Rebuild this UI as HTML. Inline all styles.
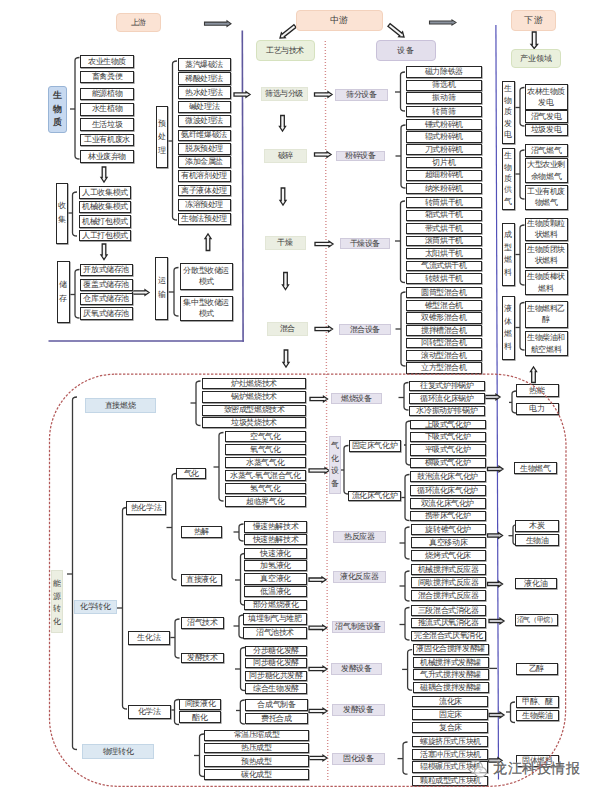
<!DOCTYPE html><html><head><meta charset="utf-8"><style>

*{margin:0;padding:0;box-sizing:border-box}
html,body{width:600px;height:795px;background:#ffffff;overflow:hidden}
body{position:relative;font-family:"Liberation Sans",sans-serif;color:#1a1a1a}
.b,.s{position:absolute;display:flex;align-items:center;justify-content:center;text-align:center;line-height:1.4;white-space:nowrap;overflow:visible}
.b{background:#fff;border:1.4px solid #262626;box-shadow:0.6px 0.8px 0 #8a8a8a}
.b,.s{color:#3a3a3a;letter-spacing:-0.4px}
.bold span{font-weight:700}
.s{border:1px solid transparent}
.peach{background:#fbe3d4;border-color:#f3d2bd;border-radius:4px}
.purp{background:#e3dfec;border-color:#c9c1d9;border-radius:4px}
.green{background:#eaf0dd;border-color:#d6e2bf;border-radius:4px}
.blue{background:#c7d9f0;border:1.5px solid #98b4d6}
.proc{background:#ebeee2;border-color:#e2e6d6}
.equip{background:#e6e3ee;border-color:#cfcadb}
.lblue{background:#dce8f2;border-color:#c3d6e6}
.green2{background:#ecefe2;border-color:#dfe3d2}
svg.ov{position:absolute;left:0;top:0}
.ln{fill:none;stroke:#3a3a3a;stroke-width:1.3}
.pl{fill:none;stroke:#5f589e;stroke-width:1.6}
.pl2{fill:none;stroke:#5250b8;stroke-width:1.2}
.dot{fill:none;stroke:#d48a8a;stroke-width:1.4;stroke-dasharray:1.1 1.9}
.rd{fill:none;stroke:#b45a5a;stroke-width:1.25;stroke-dasharray:2.4 1.6}
.arh{fill:#f4f4f4;stroke:#262626;stroke-width:1.3}
.arg{fill:#8a929e;stroke:#3a3a3a;stroke-width:1.1}
.arf{fill:#c8c8cc;stroke:#262626;stroke-width:1.3}
.wm{position:absolute;font-size:14px;line-height:18px;color:rgba(85,85,85,0.9);white-space:nowrap;letter-spacing:0.45px;-webkit-text-stroke:0.3px rgba(85,85,85,0.9);text-shadow:0 0 1.5px #fff,0 0 1px #fff}

</style></head><body>
<svg class="ov" width="600" height="795" viewBox="0 0 600 795">
<polygon points="204.5,22.1 227.0,22.1 227.0,20.9 231.0,23.7 227.0,26.5 227.0,25.3 204.5,25.3" class="arg"/>
<polygon points="387.9,26.3 399.7,35.7 398.8,36.7 404.0,37.0 402.6,32.0 401.8,33.0 390.1,23.7" class="arh"/>
<polygon points="293.9,24.7 282.2,34.0 281.4,33.0 280.0,38.0 285.2,37.7 284.3,36.7 296.1,27.3" class="arh"/>
<polygon points="429.5,21.0 452.0,21.0 452.0,19.9 456.0,22.5 452.0,25.1 452.0,24.0 429.5,24.0" class="arg"/>
<polygon points="532.3,32.0 532.3,44.5 531.0,44.5 534.2,48.5 537.5,44.5 536.1,44.5 536.1,32.0" class="arh"/>
<path d="M242.3,30.5 L243.1,341.8" class="pl"/>
<path d="M48.5,341.0 L244.0,341.0" class="pl"/>
<path d="M495.9,25 L498.5,779.5" class="pl2"/>
<path d="M325.3,41 L327.8,782" class="dot"/>
<path d="M79.5,57.5 Q75.0,57.5 75.0,60.5 L75.0,156.0 Q75.0,159.0 79.5,159.0" class="ln"/>
<path d="M70.0,109.0 L75.0,109.0" class="ln"/>
<polygon points="102.2,167.0 102.2,177.5 101.0,177.5 104.0,182.0 107.0,177.5 105.8,177.5 105.8,167.0" class="arh"/>
<path d="M77.0,192.0 Q72.5,192.0 72.5,195.0 L72.5,233.0 Q72.5,236.0 77.0,236.0" class="ln"/>
<path d="M67.5,213.0 L72.5,213.0" class="ln"/>
<polygon points="102.2,244.0 102.2,255.0 101.0,255.0 104.0,259.5 107.0,255.0 105.8,255.0 105.8,244.0" class="arh"/>
<path d="M79.5,269.5 Q75.0,269.5 75.0,272.5 L75.0,315.0 Q75.0,318.0 79.5,318.0" class="ln"/>
<path d="M69.5,294.5 L75.0,294.5" class="ln"/>
<polygon points="132.5,290.8 145.0,290.8 145.0,289.8 149.0,292.5 145.0,295.2 145.0,294.2 132.5,294.2" class="arh"/>
<path d="M178.5,267.5 Q174.0,267.5 174.0,270.5 L174.0,313.0 Q174.0,316.0 178.5,316.0" class="ln"/>
<path d="M168.5,292.0 L174.0,292.0" class="ln"/>
<polygon points="206.2,250.5 206.2,238.5 205.0,238.5 208.0,234.0 211.0,238.5 209.8,238.5 209.8,250.5" class="arh"/>
<path d="M177.0,61.0 Q172.5,61.0 172.5,64.0 L172.5,217.0 Q172.5,220.0 177.0,220.0" class="ln"/>
<path d="M167.5,141.0 L172.5,141.0" class="ln"/>
<polygon points="234.0,92.8 246.0,92.8 246.0,91.8 250.0,94.5 246.0,97.2 246.0,96.2 234.0,96.2" class="arh"/>
<polygon points="314.5,92.8 328.0,92.8 328.0,91.8 332.0,94.5 328.0,97.2 328.0,96.2 314.5,96.2" class="arh"/>
<polygon points="280.7,115.5 280.7,126.5 279.5,126.5 282.5,131.0 285.5,126.5 284.3,126.5 284.3,115.5" class="arh"/>
<polygon points="314.5,152.8 327.0,152.8 327.0,151.8 331.0,154.5 327.0,157.2 327.0,156.2 314.5,156.2" class="arh"/>
<polygon points="281.2,188.0 281.2,200.5 280.0,200.5 283.0,205.0 286.0,200.5 284.8,200.5 284.8,188.0" class="arh"/>
<polygon points="315.0,242.3 329.0,242.3 329.0,241.3 333.0,244.0 329.0,246.7 329.0,245.7 315.0,245.7" class="arh"/>
<polygon points="283.7,272.5 283.7,285.0 282.5,285.0 285.5,289.5 288.5,285.0 287.3,285.0 287.3,272.5" class="arh"/>
<polygon points="315.0,327.3 328.5,327.3 328.5,326.3 332.5,329.0 328.5,331.7 328.5,330.7 315.0,330.7" class="arh"/>
<polygon points="284.2,350.0 284.2,362.5 283.0,362.5 286.0,367.0 289.0,362.5 287.8,362.5 287.8,350.0" class="arh"/>
<path d="M405.0,72.0 Q400.5,72.0 400.5,75.0 L400.5,108.0 Q400.5,111.0 405.0,111.0" class="ln"/>
<path d="M395.0,92.0 L400.5,92.0" class="ln"/>
<path d="M405.5,125.0 Q401.0,125.0 401.0,128.0 L401.0,185.0 Q401.0,188.0 405.5,188.0" class="ln"/>
<path d="M395.5,156.0 L401.0,156.0" class="ln"/>
<path d="M405.0,201.0 Q400.5,201.0 400.5,204.0 L400.5,279.5 Q400.5,282.5 405.0,282.5" class="ln"/>
<path d="M395.0,241.0 L400.5,241.0" class="ln"/>
<path d="M405.5,292.0 Q401.0,292.0 401.0,295.0 L401.0,363.0 Q401.0,366.0 405.5,366.0" class="ln"/>
<path d="M395.5,329.0 L401.0,329.0" class="ln"/>
<path d="M524.5,87.5 Q520.0,87.5 520.0,90.5 L520.0,123.0 Q520.0,126.0 524.5,126.0" class="ln"/>
<path d="M514.5,107.5 L520.0,107.5" class="ln"/>
<path d="M524.5,150.0 Q520.0,150.0 520.0,153.0 L520.0,196.0 Q520.0,199.0 524.5,199.0" class="ln"/>
<path d="M514.5,174.0 L520.0,174.0" class="ln"/>
<path d="M524.5,225.0 Q520.0,225.0 520.0,228.0 L520.0,282.0 Q520.0,285.0 524.5,285.0" class="ln"/>
<path d="M514.5,254.5 L520.0,254.5" class="ln"/>
<path d="M524.5,302.5 Q520.0,302.5 520.0,305.5 L520.0,347.0 Q520.0,350.0 524.5,350.0" class="ln"/>
<path d="M514.5,327.5 L520.0,327.5" class="ln"/>
<polygon points="531.7,382.5 531.7,371.5 530.5,371.5 533.5,367.0 536.5,371.5 535.3,371.5 535.3,382.5" class="arh"/>
<path d="M77.0,397.0 Q72.5,397.0 72.5,400.0 L72.5,746.5 Q72.5,749.5 77.0,749.5" class="ln"/>
<path d="M67.0,574.0 L72.5,574.0" class="ln"/>
<path d="M117.0,608.0 L122.5,608.0" class="ln"/>
<path d="M127.0,507.5 Q122.5,507.5 122.5,510.5 L122.5,706.0 Q122.5,709.0 127.0,709.0" class="ln"/>
<path d="M176.5,473.5 Q172.0,473.5 172.0,476.5 L172.0,577.0 Q172.0,580.0 176.5,580.0" class="ln"/>
<path d="M166.5,527.5 L172.0,527.5" class="ln"/>
<path d="M223.5,432.5 Q219.0,432.5 219.0,435.5 L219.0,498.0 Q219.0,501.0 223.5,501.0" class="ln"/>
<path d="M213.5,467.0 L219.0,467.0" class="ln"/>
<path d="M200.5,381.0 Q196.0,381.0 196.0,384.0 L196.0,422.5 Q196.0,425.5 200.5,425.5" class="ln"/>
<path d="M190.5,403.0 L196.0,403.0" class="ln"/>
<polygon points="310.0,397.3 323.5,397.3 323.5,396.3 327.5,399.0 323.5,401.7 323.5,400.7 310.0,400.7" class="arh"/>
<path d="M243.5,524.0 Q239.0,524.0 239.0,527.0 L239.0,538.0 Q239.0,541.0 243.5,541.0" class="ln"/>
<path d="M233.5,532.0 L239.0,532.0" class="ln"/>
<path d="M245.0,553.5 Q240.5,553.5 240.5,556.5 L240.5,602.0 Q240.5,605.0 245.0,605.0" class="ln"/>
<path d="M235.0,580.0 L240.5,580.0" class="ln"/>
<polygon points="309.0,578.0 322.0,578.0 322.0,577.0 326.0,579.7 322.0,582.4 322.0,581.4 309.0,581.4" class="arh"/>
<path d="M179.5,619.0 Q175.0,619.0 175.0,622.0 L175.0,655.0 Q175.0,658.0 179.5,658.0" class="ln"/>
<path d="M170.0,637.5 L175.0,637.5" class="ln"/>
<path d="M243.5,615.0 Q239.0,615.0 239.0,618.0 L239.0,635.0 Q239.0,638.0 243.5,638.0" class="ln"/>
<path d="M233.5,626.0 L239.0,626.0" class="ln"/>
<polygon points="309.0,626.1 322.7,626.1 322.7,625.1 326.7,627.8 322.7,630.5 322.7,629.5 309.0,629.5" class="arh"/>
<path d="M245.0,647.5 Q240.5,647.5 240.5,650.5 L240.5,687.5 Q240.5,690.5 245.0,690.5" class="ln"/>
<path d="M235.0,669.0 L240.5,669.0" class="ln"/>
<polygon points="309.0,667.3 323.0,667.3 323.0,666.3 327.0,669.0 323.0,671.7 323.0,670.7 309.0,670.7" class="arh"/>
<path d="M179.0,699.5 Q174.5,699.5 174.5,702.5 L174.5,721.5 Q174.5,724.5 179.0,724.5" class="ln"/>
<path d="M170.5,710.0 L174.5,710.0" class="ln"/>
<path d="M244.8,700.0 Q240.3,700.0 240.3,703.0 L240.3,721.0 Q240.3,724.0 244.8,724.0" class="ln"/>
<path d="M236.0,710.5 L240.3,710.5" class="ln"/>
<polygon points="309.0,709.3 323.0,709.3 323.0,708.3 327.0,711.0 323.0,713.7 323.0,712.7 309.0,712.7" class="arh"/>
<path d="M204.0,734.0 Q199.5,734.0 199.5,737.0 L199.5,773.5 Q199.5,776.5 204.0,776.5" class="ln"/>
<path d="M194.0,755.5 L199.5,755.5" class="ln"/>
<polygon points="309.0,756.3 323.0,756.3 323.0,755.3 327.0,758.0 323.0,760.7 323.0,759.7 309.0,759.7" class="arh"/>
<path d="M408.5,382.5 Q404.0,382.5 404.0,385.5 L404.0,407.0 Q404.0,410.0 408.5,410.0" class="ln"/>
<path d="M398.5,397.5 L404.0,397.5" class="ln"/>
<polygon points="485.0,395.3 496.0,395.3 496.0,394.3 500.0,397.0 496.0,399.7 496.0,398.7 485.0,398.7" class="arf"/>
<polygon points="309.0,468.8 325.0,468.8 325.0,467.8 329.0,470.5 325.0,473.2 325.0,472.2 309.0,472.2" class="arh"/>
<path d="M348.5,445.5 Q344.0,445.5 344.0,448.5 L344.0,491.0 Q344.0,494.0 348.5,494.0" class="ln"/>
<path d="M340.5,470.0 L344.0,470.0" class="ln"/>
<path d="M410.5,421.0 Q406.0,421.0 406.0,424.0 L406.0,462.0 Q406.0,465.0 410.5,465.0" class="ln"/>
<path d="M404.0,445.0 L406.0,445.0" class="ln"/>
<path d="M409.5,474.5 Q405.0,474.5 405.0,477.5 L405.0,517.5 Q405.0,520.5 409.5,520.5" class="ln"/>
<path d="M401.0,497.5 L405.0,497.5" class="ln"/>
<polygon points="487.5,467.3 499.0,467.3 499.0,466.3 503.0,469.0 499.0,471.7 499.0,470.7 487.5,470.7" class="arf"/>
<path d="M409.5,527.0 Q405.0,527.0 405.0,530.0 L405.0,556.0 Q405.0,559.0 409.5,559.0" class="ln"/>
<path d="M399.5,543.0 L405.0,543.0" class="ln"/>
<polygon points="487.5,533.8 498.5,533.8 498.5,532.8 502.5,535.5 498.5,538.2 498.5,537.2 487.5,537.2" class="arf"/>
<path d="M409.5,571.0 Q405.0,571.0 405.0,574.0 L405.0,598.0 Q405.0,601.0 409.5,601.0" class="ln"/>
<path d="M399.5,586.0 L405.0,586.0" class="ln"/>
<polygon points="487.5,582.3 498.5,582.3 498.5,581.3 502.5,584.0 498.5,586.7 498.5,585.7 487.5,585.7" class="arf"/>
<path d="M409.5,607.5 Q405.0,607.5 405.0,610.5 L405.0,637.0 Q405.0,640.0 409.5,640.0" class="ln"/>
<path d="M399.5,624.5 L405.0,624.5" class="ln"/>
<polygon points="489.0,619.3 500.0,619.3 500.0,618.3 504.0,621.0 500.0,623.7 500.0,622.7 489.0,622.7" class="arf"/>
<path d="M412.1,649.7 Q407.6,649.7 407.6,652.7 L407.6,687.2 Q407.6,690.2 412.1,690.2" class="ln"/>
<path d="M402.1,669.4 L407.6,669.4" class="ln"/>
<path d="M488.6,668.4 L497.0,668.4" class="ln"/>
<polygon points="489.0,713.3 500.0,713.3 500.0,712.3 504.0,715.0 500.0,717.7 500.0,716.7 489.0,716.7" class="arf"/>
<path d="M407.5,742.0 Q403.0,742.0 403.0,745.0 L403.0,771.2 Q403.0,774.2 407.5,774.2" class="ln"/>
<path d="M397.5,758.6 L403.0,758.6" class="ln"/>
<polygon points="488.5,758.8 498.0,758.8 498.0,757.8 502.0,760.5 498.0,763.2 498.0,762.2 488.5,762.2" class="arf"/>
<path d="M516.5,391.0 Q512.0,391.0 512.0,394.0 L512.0,410.0 Q512.0,413.0 516.5,413.0" class="ln"/>
<path d="M509.0,402.4 L512.0,402.4" class="ln"/>
<path d="M517.5,524.7 Q513.0,524.7 513.0,527.7 L513.0,542.0 Q513.0,545.0 517.5,545.0" class="ln"/>
<path d="M508.5,535.7 L513.0,535.7" class="ln"/>
<path d="M515.0,702.0 Q510.5,702.0 510.5,705.0 L510.5,719.5 Q510.5,722.5 515.0,722.5" class="ln"/>
<path d="M506.0,712.0 L510.5,712.0" class="ln"/>
</svg>
<div class="s peach" style="left:115.5px;top:13.0px;width:45.5px;height:19.0px;font-size:8px;"><span>上游</span></div>
<div class="s peach" style="left:296.0px;top:10.0px;width:86.5px;height:20.5px;font-size:9px;letter-spacing:0.5px;"><span>中游</span></div>
<div class="s purp" style="left:376.0px;top:40.0px;width:59.5px;height:21.0px;font-size:8px;letter-spacing:0.3px;"><span>设备</span></div>
<div class="s green" style="left:255.5px;top:40.0px;width:59.0px;height:21.0px;font-size:8px;"><span>工艺与技术</span></div>
<div class="s peach" style="left:511.0px;top:10.0px;width:45.0px;height:20.5px;font-size:9px;letter-spacing:0.5px;"><span>下游</span></div>
<div class="s green" style="left:511.0px;top:49.0px;width:50.0px;height:18.5px;font-size:8px;letter-spacing:0px;"><span>产业领域</span></div>
<div class="s blue bold v" style="left:48.0px;top:86.0px;width:19.0px;height:46.5px;font-size:9px;border-radius:3px;"><span style="line-height:13.50px">生<br>物<br>质</span></div>
<div class="b" style="left:80.0px;top:54.5px;width:54.0px;height:13.5px;font-size:8px;"><span>农业生物质</span></div>
<div class="b" style="left:80.0px;top:70.5px;width:54.0px;height:12.5px;font-size:8px;"><span>畜禽粪便</span></div>
<div class="b" style="left:80.0px;top:87.5px;width:54.0px;height:12.5px;font-size:8px;"><span>能源植物</span></div>
<div class="b" style="left:80.0px;top:102.5px;width:54.0px;height:13.0px;font-size:8px;"><span>水生植物</span></div>
<div class="b" style="left:80.0px;top:118.0px;width:54.0px;height:13.0px;font-size:8px;"><span>生活垃圾</span></div>
<div class="b" style="left:80.0px;top:134.0px;width:54.0px;height:12.0px;font-size:8px;"><span>工业有机废水</span></div>
<div class="b" style="left:80.0px;top:150.0px;width:54.0px;height:13.0px;font-size:8px;"><span>林业废弃物</span></div>
<div class="b v" style="left:56.0px;top:182.5px;width:11.5px;height:61.5px;font-size:8px;"><span style="line-height:14.00px">收<br>集</span></div>
<div class="b" style="left:79.0px;top:186.0px;width:52.0px;height:13.0px;font-size:8px;"><span>人工收集模式</span></div>
<div class="b" style="left:79.0px;top:201.0px;width:52.0px;height:11.5px;font-size:8px;"><span>机械收集模式</span></div>
<div class="b" style="left:79.0px;top:215.0px;width:52.0px;height:12.5px;font-size:8px;"><span>机械打包模式</span></div>
<div class="b" style="left:79.0px;top:229.5px;width:52.0px;height:11.5px;font-size:8px;"><span>人工打包模式</span></div>
<div class="b v" style="left:57.0px;top:260.5px;width:12.5px;height:62.0px;font-size:8px;"><span style="line-height:14.00px">储<br>存</span></div>
<div class="b" style="left:80.0px;top:264.0px;width:52.5px;height:12.0px;font-size:8px;"><span>开放式储存池</span></div>
<div class="b" style="left:80.0px;top:279.0px;width:52.5px;height:12.0px;font-size:8px;"><span>覆盖式储存池</span></div>
<div class="b" style="left:80.0px;top:293.0px;width:52.5px;height:12.0px;font-size:8px;"><span>仓库式储存池</span></div>
<div class="b" style="left:80.0px;top:307.0px;width:52.5px;height:12.5px;font-size:8px;"><span>厌氧式储存池</span></div>
<div class="b v" style="left:155.0px;top:257.0px;width:13.0px;height:62.5px;font-size:8px;"><span style="line-height:14.00px">运<br>输</span></div>
<div class="b" style="left:180.0px;top:262.5px;width:52.5px;height:27.0px;font-size:8px;"><span>分散型收储运<br>模式</span></div>
<div class="b" style="left:180.0px;top:295.5px;width:52.5px;height:25.5px;font-size:8px;"><span>集中型收储运<br>模式</span></div>
<div class="b v" style="left:155.5px;top:106.0px;width:12.0px;height:62.0px;font-size:8px;"><span style="line-height:13.50px">预<br>处<br>理</span></div>
<div class="b" style="left:177.5px;top:58.0px;width:53.0px;height:12.5px;font-size:8px;"><span>蒸汽爆破法</span></div>
<div class="b" style="left:177.5px;top:72.0px;width:53.0px;height:12.5px;font-size:8px;"><span>稀酸处理法</span></div>
<div class="b" style="left:177.5px;top:86.0px;width:53.0px;height:13.0px;font-size:8px;"><span>热水处理法</span></div>
<div class="b" style="left:177.5px;top:100.5px;width:53.0px;height:12.5px;font-size:8px;"><span>碱处理法</span></div>
<div class="b" style="left:177.5px;top:114.5px;width:53.0px;height:12.5px;font-size:8px;"><span>微波处理法</span></div>
<div class="b" style="left:177.5px;top:129.5px;width:53.0px;height:11.0px;font-size:8px;"><span>氨纤维爆破法</span></div>
<div class="b" style="left:177.5px;top:143.0px;width:53.0px;height:11.5px;font-size:8px;"><span>脱灰预处理</span></div>
<div class="b" style="left:177.5px;top:156.0px;width:53.0px;height:12.0px;font-size:8px;"><span>添加金属盐</span></div>
<div class="b" style="left:177.5px;top:170.0px;width:53.0px;height:12.0px;font-size:8px;"><span>有机溶剂处理</span></div>
<div class="b" style="left:177.5px;top:184.5px;width:53.0px;height:11.5px;font-size:8px;"><span>离子液体处理</span></div>
<div class="b" style="left:177.5px;top:199.0px;width:53.0px;height:11.5px;font-size:8px;"><span>冻溶预处理</span></div>
<div class="b" style="left:177.5px;top:212.5px;width:53.0px;height:12.5px;font-size:8px;"><span>生物法预处理</span></div>
<div class="s proc" style="left:260.5px;top:87.0px;width:47.0px;height:14.0px;font-size:8px;"><span>筛选与分级</span></div>
<div class="s equip" style="left:335.0px;top:89.0px;width:52.5px;height:12.0px;font-size:8px;"><span>筛分设备</span></div>
<div class="s proc" style="left:264.0px;top:149.0px;width:43.0px;height:13.5px;font-size:8px;"><span>破碎</span></div>
<div class="s equip" style="left:336.0px;top:150.5px;width:49.0px;height:10.0px;font-size:8px;"><span>粉碎设备</span></div>
<div class="s proc" style="left:264.5px;top:236.0px;width:41.0px;height:14.0px;font-size:8px;"><span>干燥</span></div>
<div class="s equip" style="left:339.5px;top:238.0px;width:50.5px;height:11.0px;font-size:8px;"><span>干燥设备</span></div>
<div class="s proc" style="left:267.0px;top:322.0px;width:41.0px;height:14.0px;font-size:8px;"><span>混合</span></div>
<div class="s equip" style="left:338.5px;top:323.5px;width:52.5px;height:11.5px;font-size:8px;"><span>混合设备</span></div>
<div class="b" style="left:405.5px;top:66.0px;width:76.5px;height:11.5px;font-size:8px;"><span>磁力除铁器</span></div>
<div class="b" style="left:405.5px;top:79.5px;width:76.5px;height:11.0px;font-size:8px;"><span>筛选机</span></div>
<div class="b" style="left:405.5px;top:92.0px;width:76.5px;height:12.0px;font-size:8px;"><span>振动筛</span></div>
<div class="b" style="left:405.5px;top:105.5px;width:76.5px;height:11.5px;font-size:8px;"><span>转筒筛</span></div>
<div class="b" style="left:405.5px;top:119.0px;width:76.5px;height:11.0px;font-size:8px;"><span>锤式粉碎机</span></div>
<div class="b" style="left:405.5px;top:131.0px;width:76.5px;height:11.5px;font-size:8px;"><span>辊式粉碎机</span></div>
<div class="b" style="left:405.5px;top:144.0px;width:76.5px;height:11.0px;font-size:8px;"><span>刀式粉碎机</span></div>
<div class="b" style="left:405.5px;top:157.0px;width:76.5px;height:10.5px;font-size:8px;"><span>切片机</span></div>
<div class="b" style="left:405.5px;top:169.5px;width:76.5px;height:11.0px;font-size:8px;"><span>超细粉碎机</span></div>
<div class="b" style="left:405.5px;top:182.5px;width:76.5px;height:11.5px;font-size:8px;"><span>纳米粉碎机</span></div>
<div class="b" style="left:405.5px;top:197.0px;width:76.5px;height:10.5px;font-size:8px;"><span>转筒烘干机</span></div>
<div class="b" style="left:405.5px;top:209.5px;width:76.5px;height:11.0px;font-size:8px;"><span>箱式烘干机</span></div>
<div class="b" style="left:405.5px;top:222.5px;width:76.5px;height:11.5px;font-size:8px;"><span>带式烘干机</span></div>
<div class="b" style="left:405.5px;top:235.5px;width:76.5px;height:10.5px;font-size:8px;"><span>滚筒烘干机</span></div>
<div class="b" style="left:405.5px;top:248.0px;width:76.5px;height:11.0px;font-size:8px;"><span>太阳烘干机</span></div>
<div class="b" style="left:405.5px;top:260.5px;width:76.5px;height:10.5px;font-size:8px;"><span>气流式烘干机</span></div>
<div class="b" style="left:405.5px;top:273.0px;width:76.5px;height:11.0px;font-size:8px;"><span>转鼓烘干机</span></div>
<div class="b" style="left:405.5px;top:287.0px;width:76.5px;height:11.0px;font-size:8px;"><span>圆筒型混合机</span></div>
<div class="b" style="left:405.5px;top:299.6px;width:76.5px;height:11.4px;font-size:8px;"><span>锥型混合机</span></div>
<div class="b" style="left:405.5px;top:312.4px;width:76.5px;height:11.2px;font-size:8px;"><span>双锥形混合机</span></div>
<div class="b" style="left:405.5px;top:325.0px;width:76.5px;height:11.0px;font-size:8px;"><span>搅拌槽混合机</span></div>
<div class="b" style="left:405.5px;top:337.6px;width:76.5px;height:10.4px;font-size:8px;"><span>回转型混合机</span></div>
<div class="b" style="left:405.5px;top:350.0px;width:76.5px;height:11.0px;font-size:8px;"><span>滚动型混合机</span></div>
<div class="b" style="left:405.5px;top:362.4px;width:76.5px;height:11.2px;font-size:8px;"><span>立方型混合机</span></div>
<div class="b v" style="left:502.0px;top:80.5px;width:12.5px;height:63.0px;font-size:8px;"><span style="line-height:11.40px">生<br>物<br>质<br>发<br>电</span></div>
<div class="b" style="left:524.5px;top:84.0px;width:43.0px;height:25.5px;font-size:8px;"><span>农林生物质<br>发电</span></div>
<div class="b" style="left:524.5px;top:110.0px;width:43.0px;height:12.5px;font-size:8px;"><span>沼气发电</span></div>
<div class="b" style="left:524.5px;top:124.0px;width:43.0px;height:11.5px;font-size:8px;"><span>垃圾发电</span></div>
<div class="b v" style="left:502.0px;top:148.0px;width:12.5px;height:61.5px;font-size:8px;"><span style="line-height:11.40px">生<br>物<br>质<br>供<br>气</span></div>
<div class="b" style="left:524.5px;top:144.0px;width:43.0px;height:13.0px;font-size:8px;"><span>沼气燃气</span></div>
<div class="b" style="left:524.5px;top:158.0px;width:43.0px;height:25.0px;font-size:8px;"><span>大型农业剩<br>余物燃气</span></div>
<div class="b" style="left:524.5px;top:184.5px;width:43.0px;height:25.0px;font-size:8px;"><span>工业有机废<br>物燃气</span></div>
<div class="b v" style="left:502.0px;top:222.5px;width:12.5px;height:63.5px;font-size:8px;"><span style="line-height:12.50px">成<br>型<br>燃<br>料</span></div>
<div class="b" style="left:524.5px;top:217.5px;width:43.0px;height:23.5px;font-size:8px;"><span>生物质颗粒<br>状燃料</span></div>
<div class="b" style="left:524.5px;top:242.5px;width:43.0px;height:25.5px;font-size:8px;"><span>生物质团块<br>状燃料</span></div>
<div class="b" style="left:524.5px;top:270.0px;width:43.0px;height:25.0px;font-size:8px;"><span>生物质棒状<br>燃料</span></div>
<div class="b v" style="left:502.0px;top:296.0px;width:12.5px;height:64.0px;font-size:8px;"><span style="line-height:12.50px">液<br>体<br>燃<br>料</span></div>
<div class="b" style="left:524.5px;top:301.0px;width:43.0px;height:26.5px;font-size:8px;"><span>生物燃料乙<br>醇</span></div>
<div class="b" style="left:524.5px;top:331.0px;width:43.0px;height:25.0px;font-size:8px;"><span>生物柴油和<br>航空燃料</span></div>
<div class="s green2 v" style="left:50.5px;top:570.0px;width:12.1px;height:62.7px;font-size:8px;padding-top:4px;"><span style="line-height:12.50px">能<br>源<br>转<br>化</span></div>
<div class="s lblue" style="left:84.5px;top:398.0px;width:71.0px;height:14.5px;font-size:8px;"><span>直接燃烧</span></div>
<div class="s lblue" style="left:74.0px;top:599.5px;width:43.0px;height:14.5px;font-size:8px;"><span>化学转化</span></div>
<div class="s lblue" style="left:82.0px;top:744.0px;width:72.0px;height:15.0px;font-size:8px;"><span>物理转化</span></div>
<div class="b" style="left:126.0px;top:500.5px;width:40.0px;height:14.5px;font-size:8px;"><span>热化学法</span></div>
<div class="b" style="left:127.5px;top:630.5px;width:42.5px;height:14.0px;font-size:8px;"><span>生化法</span></div>
<div class="b" style="left:127.5px;top:704.5px;width:43.0px;height:14.5px;font-size:8px;"><span>化学法</span></div>
<div class="b" style="left:176.4px;top:467.5px;width:30.1px;height:11.5px;font-size:8px;"><span>气化</span></div>
<div class="b" style="left:180.5px;top:526.0px;width:41.5px;height:11.5px;font-size:8px;"><span>热解</span></div>
<div class="b" style="left:180.5px;top:574.0px;width:41.5px;height:11.5px;font-size:8px;"><span>直接液化</span></div>
<div class="b" style="left:224.5px;top:431.0px;width:81.5px;height:11.0px;font-size:8px;"><span>空气气化</span></div>
<div class="b" style="left:224.5px;top:444.0px;width:81.5px;height:10.5px;font-size:8px;"><span>氧气气化</span></div>
<div class="b" style="left:224.5px;top:457.0px;width:81.5px;height:11.0px;font-size:8px;"><span>水蒸气气化</span></div>
<div class="b" style="left:224.5px;top:470.0px;width:81.5px;height:11.0px;font-size:8px;"><span>水蒸气-氧气混合气化</span></div>
<div class="b" style="left:224.5px;top:483.0px;width:81.5px;height:11.0px;font-size:8px;"><span>氢气气化</span></div>
<div class="b" style="left:224.5px;top:496.0px;width:81.5px;height:11.0px;font-size:8px;"><span>超临界气化</span></div>
<div class="b" style="left:202.0px;top:378.0px;width:104.0px;height:11.0px;font-size:8px;"><span>炉灶燃烧技术</span></div>
<div class="b" style="left:202.0px;top:390.5px;width:104.0px;height:12.0px;font-size:8px;"><span>锅炉燃烧技术</span></div>
<div class="b" style="left:202.0px;top:404.5px;width:104.0px;height:11.0px;font-size:8px;"><span>致密成型燃烧技术</span></div>
<div class="b" style="left:202.0px;top:417.0px;width:104.0px;height:11.0px;font-size:8px;"><span>垃圾焚烧技术</span></div>
<div class="b" style="left:244.0px;top:521.0px;width:62.7px;height:11.5px;font-size:8px;"><span>慢速热解技术</span></div>
<div class="b" style="left:244.0px;top:534.0px;width:62.7px;height:11.0px;font-size:8px;"><span>快速热解技术</span></div>
<div class="b" style="left:244.2px;top:547.5px;width:62.8px;height:11.2px;font-size:8px;"><span>快速液化</span></div>
<div class="b" style="left:244.2px;top:560.0px;width:62.8px;height:11.3px;font-size:8px;"><span>加氢液化</span></div>
<div class="b" style="left:244.2px;top:573.3px;width:62.8px;height:11.4px;font-size:8px;"><span>真空液化</span></div>
<div class="b" style="left:244.2px;top:586.3px;width:62.8px;height:11.2px;font-size:8px;"><span>低温液化</span></div>
<div class="b" style="left:244.2px;top:599.5px;width:62.8px;height:10.5px;font-size:8px;"><span>部分燃烧液化</span></div>
<div class="b" style="left:181.0px;top:617.0px;width:43.0px;height:11.8px;font-size:8px;"><span>沼气技术</span></div>
<div class="b" style="left:181.0px;top:652.5px;width:43.0px;height:10.5px;font-size:8px;"><span>发酵技术</span></div>
<div class="b" style="left:243.3px;top:613.3px;width:63.4px;height:11.4px;font-size:8px;"><span>填埋制气与堆肥</span></div>
<div class="b" style="left:243.3px;top:627.0px;width:63.4px;height:11.5px;font-size:8px;"><span>沼气池技术</span></div>
<div class="b" style="left:244.7px;top:645.5px;width:62.6px;height:10.0px;font-size:8px;"><span>分步糖化发酵</span></div>
<div class="b" style="left:244.7px;top:658.0px;width:62.6px;height:10.0px;font-size:8px;"><span>同步糖化发酵</span></div>
<div class="b" style="left:244.7px;top:670.5px;width:62.6px;height:10.0px;font-size:8px;"><span>同步糖化共发酵</span></div>
<div class="b" style="left:244.7px;top:683.0px;width:62.6px;height:11.0px;font-size:8px;"><span>综合生物发酵</span></div>
<div class="b" style="left:179.2px;top:698.5px;width:41.6px;height:11.0px;font-size:8px;"><span>间接液化</span></div>
<div class="b" style="left:179.2px;top:711.3px;width:41.6px;height:12.0px;font-size:8px;"><span>酯化</span></div>
<div class="b" style="left:244.8px;top:699.3px;width:63.2px;height:11.5px;font-size:8px;"><span>合成气制备</span></div>
<div class="b" style="left:244.8px;top:712.7px;width:63.2px;height:11.4px;font-size:8px;"><span>费托合成</span></div>
<div class="b" style="left:204.0px;top:729.5px;width:105.0px;height:11.0px;font-size:8px;"><span>常温压缩成型</span></div>
<div class="b" style="left:204.0px;top:742.5px;width:105.0px;height:10.5px;font-size:8px;"><span>热压成型</span></div>
<div class="b" style="left:204.0px;top:755.3px;width:105.0px;height:11.7px;font-size:8px;"><span>预热成型</span></div>
<div class="b" style="left:204.0px;top:769.2px;width:105.0px;height:11.3px;font-size:8px;"><span>碳化成型</span></div>
<div class="s equip" style="left:331.0px;top:392.5px;width:51.0px;height:11.5px;font-size:8px;"><span>燃烧设备</span></div>
<div class="b" style="left:409.0px;top:381.0px;width:75.5px;height:10.0px;font-size:8px;"><span>往复式炉排锅炉</span></div>
<div class="b" style="left:409.0px;top:393.0px;width:75.5px;height:11.0px;font-size:8px;"><span>循环流化床锅炉</span></div>
<div class="b" style="left:409.0px;top:405.5px;width:75.5px;height:10.0px;font-size:8px;"><span>水冷振动炉排锅炉</span></div>
<div class="s equip v" style="left:328.5px;top:436.0px;width:12.0px;height:58.0px;font-size:8px;"><span style="line-height:12.50px">气<br>化<br>设<br>备</span></div>
<div class="b" style="left:348.5px;top:439.6px;width:52.0px;height:12.0px;font-size:8px;"><span>固定床气化炉</span></div>
<div class="b" style="left:348.0px;top:491.0px;width:53.0px;height:10.0px;font-size:8px;"><span>流化床气化炉</span></div>
<div class="b" style="left:409.5px;top:419.5px;width:76.0px;height:9.5px;font-size:8px;"><span>上吸式气化炉</span></div>
<div class="b" style="left:409.5px;top:432.0px;width:76.0px;height:10.0px;font-size:8px;"><span>下吸式气化炉</span></div>
<div class="b" style="left:409.5px;top:444.0px;width:76.0px;height:11.5px;font-size:8px;"><span>平吸式气化炉</span></div>
<div class="b" style="left:409.5px;top:457.5px;width:76.0px;height:10.5px;font-size:8px;"><span>横吸式气化炉</span></div>
<div class="b" style="left:409.5px;top:471.0px;width:76.0px;height:11.0px;font-size:8px;"><span>鼓泡流化床气化炉</span></div>
<div class="b" style="left:409.5px;top:485.0px;width:76.0px;height:10.5px;font-size:8px;"><span>循环流化床气化炉</span></div>
<div class="b" style="left:409.5px;top:498.0px;width:76.0px;height:11.0px;font-size:8px;"><span>双流化床气化炉</span></div>
<div class="b" style="left:409.5px;top:510.5px;width:76.0px;height:10.0px;font-size:8px;"><span>携带床气化炉</span></div>
<div class="s equip" style="left:333.0px;top:530.5px;width:52.5px;height:12.0px;font-size:8px;"><span>热反应器</span></div>
<div class="b" style="left:410.5px;top:524.0px;width:75.5px;height:10.5px;font-size:8px;"><span>旋转锥气化炉</span></div>
<div class="b" style="left:410.5px;top:537.0px;width:75.5px;height:10.5px;font-size:8px;"><span>真空移动床</span></div>
<div class="b" style="left:410.5px;top:550.0px;width:75.5px;height:10.5px;font-size:8px;"><span>烧烤式气化床</span></div>
<div class="s equip" style="left:333.0px;top:570.5px;width:52.5px;height:12.0px;font-size:8px;"><span>液化反应器</span></div>
<div class="b" style="left:410.5px;top:564.0px;width:75.5px;height:11.0px;font-size:8px;"><span>机械搅拌式反应器</span></div>
<div class="b" style="left:410.5px;top:577.0px;width:75.5px;height:11.0px;font-size:8px;"><span>间歇搅拌式反应器</span></div>
<div class="b" style="left:410.5px;top:590.0px;width:75.5px;height:11.0px;font-size:8px;"><span>混合搅拌式反应器</span></div>
<div class="s equip" style="left:332.0px;top:621.0px;width:52.5px;height:11.5px;font-size:8px;"><span>沼气制造设备</span></div>
<div class="b" style="left:410.5px;top:605.0px;width:75.5px;height:10.5px;font-size:8px;"><span>三段混合式消化器</span></div>
<div class="b" style="left:410.5px;top:618.0px;width:75.5px;height:10.0px;font-size:8px;"><span>推流式厌氧消化器</span></div>
<div class="b" style="left:410.5px;top:630.5px;width:75.5px;height:10.0px;font-size:8px;"><span>完全混合式厌氧消化</span></div>
<div class="s equip" style="left:331.0px;top:663.0px;width:51.0px;height:11.5px;font-size:8px;"><span>发酵设备</span></div>
<div class="b" style="left:412.6px;top:643.5px;width:76.0px;height:11.0px;font-size:8px;"><span>液固化合搅拌发酵罐</span></div>
<div class="b" style="left:412.6px;top:656.5px;width:76.0px;height:11.3px;font-size:8px;"><span>机械搅拌式发酵罐</span></div>
<div class="b" style="left:412.6px;top:669.4px;width:76.0px;height:11.0px;font-size:8px;"><span>气升式搅拌发酵罐</span></div>
<div class="b" style="left:412.6px;top:682.3px;width:76.0px;height:11.0px;font-size:8px;"><span>磁耦合搅拌发酵罐</span></div>
<div class="s equip" style="left:332.0px;top:704.0px;width:52.5px;height:11.5px;font-size:8px;"><span>发酵设备</span></div>
<div class="b" style="left:412.4px;top:696.0px;width:76.1px;height:10.8px;font-size:8px;"><span>流化床</span></div>
<div class="b" style="left:412.4px;top:709.3px;width:76.1px;height:10.9px;font-size:8px;"><span>固定床</span></div>
<div class="b" style="left:412.4px;top:721.7px;width:76.1px;height:11.6px;font-size:8px;"><span>复合床</span></div>
<div class="s equip" style="left:332.0px;top:753.0px;width:52.5px;height:12.0px;font-size:8px;"><span>固化设备</span></div>
<div class="b" style="left:412.4px;top:735.8px;width:76.1px;height:11.4px;font-size:8px;"><span>螺旋挤压式压块机</span></div>
<div class="b" style="left:412.4px;top:748.7px;width:76.1px;height:11.0px;font-size:8px;"><span>活塞冲压式压块机</span></div>
<div class="b" style="left:412.4px;top:761.0px;width:76.1px;height:11.7px;font-size:8px;"><span>辊模碾压式压块机</span></div>
<div class="b" style="left:412.4px;top:775.6px;width:76.1px;height:10.4px;font-size:8px;"><span>颗粒成型式压块机</span></div>
<div class="b" style="left:515.5px;top:384.2px;width:43.2px;height:12.5px;font-size:8px;"><span>热能</span></div>
<div class="b" style="left:515.5px;top:403.0px;width:43.2px;height:12.0px;font-size:8px;"><span>电力</span></div>
<div class="b" style="left:514.3px;top:462.2px;width:42.4px;height:12.1px;font-size:8px;"><span>生物燃气</span></div>
<div class="b" style="left:515.2px;top:519.5px;width:43.5px;height:12.3px;font-size:8px;"><span>木炭</span></div>
<div class="b" style="left:515.2px;top:534.2px;width:43.5px;height:12.3px;font-size:8px;"><span>生物油</span></div>
<div class="b" style="left:514.5px;top:577.5px;width:42.5px;height:11.5px;font-size:8px;"><span>液化油</span></div>
<div class="b" style="left:515.3px;top:614.2px;width:42.8px;height:11.9px;font-size:7px;letter-spacing:-0.4px;"><span>沼气（甲烷）</span></div>
<div class="b" style="left:515.5px;top:663.0px;width:42.0px;height:12.0px;font-size:8px;"><span>乙醇</span></div>
<div class="b" style="left:516.0px;top:696.0px;width:43.0px;height:11.5px;font-size:8px;"><span>甲醇、醚</span></div>
<div class="b" style="left:515.5px;top:709.5px;width:43.5px;height:11.5px;font-size:8px;"><span>生物柴油</span></div>
<div class="b" style="left:515.5px;top:754.5px;width:43.5px;height:12.5px;font-size:8px;"><span>固体燃料</span></div>
<div class="wm" style="left:493.3px;top:759.2px;">龙江科技情报</div><svg style="position:absolute;left:467px;top:758.5px" width="21" height="20" viewBox="0 0 21 20"><ellipse cx="8.5" cy="8" rx="7" ry="6" fill="none" stroke="#b0b0b0" stroke-width="1.1"/><ellipse cx="13.5" cy="13" rx="6" ry="5" fill="rgba(255,255,255,0.6)" stroke="#b0b0b0" stroke-width="1.1"/><circle cx="6" cy="6.5" r="0.9" fill="#a0a0a0"/><circle cx="10.5" cy="6.5" r="0.9" fill="#a0a0a0"/></svg>
<svg class="ov" width="600" height="795" viewBox="0 0 600 795"><path class="rd" d="M115,374.2 L494,374.2 A72,72 0 0 1 566,446.2 L565.6,710 A76,76 0 0 1 489.6,786.3 L117.5,786.3 A68,68 0 0 1 49.5,718.3 L49.5,439.7 A65.5,65.5 0 0 1 115,374.2 Z"/></svg>
</body></html>
